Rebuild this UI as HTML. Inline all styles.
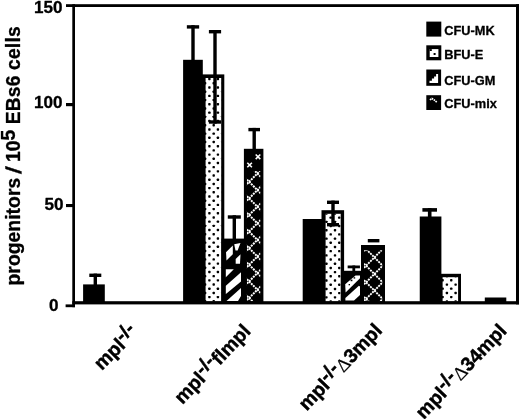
<!DOCTYPE html>
<html lang="en"><head><meta charset="utf-8"><title>progenitors / 10^5 EBs6 cells</title>
<style>
html,body{margin:0;padding:0;background:#fff;}
body{width:520px;height:419px;overflow:hidden;}
svg{display:block;}
text{font-family:"Liberation Sans",Arial,Helvetica,sans-serif;font-weight:bold;fill:#000;stroke:#000;stroke-width:0.3px;stroke-linejoin:round;}
.tk{font-size:16px;}
.lg{font-size:12.8px;}
.ax{font-size:19.3px;}
.xl{font-size:19.5px;stroke-width:0.45px;}
.sym{font-family:"Liberation Serif","DejaVu Serif",serif;font-weight:normal;font-size:19px;stroke-width:0.2px;}
</style></head><body>
<svg width="520" height="419" viewBox="0 0 520 419">
<rect x="0" y="0" width="520" height="419" fill="#fff"/>

<rect x="83.10" y="284.40" width="21.70" height="18.10" fill="#000" />
<rect x="89.30" y="273.60" width="12.00" height="3.40" fill="#000" />
<rect x="93.60" y="273.60" width="3.40" height="11.40" fill="#000" />
<rect x="183.10" y="59.80" width="19.70" height="242.70" fill="#000" />
<rect x="186.85" y="25.20" width="12.30" height="3.40" fill="#000" />
<rect x="191.30" y="25.20" width="3.40" height="34.80" fill="#000" />
<rect x="201.50" y="74.40" width="22.80" height="228.10" fill="#000" />
<rect x="205.60" y="78.00" width="15.60" height="223.50" fill="#fff" />
<clipPath id="c1"><rect x="205.00" y="78.00" width="16.20" height="223.50"/></clipPath>
<g clip-path="url(#c1)">
<rect x="208.20" y="77.91" width="2.4" height="2.4" rx="0.7" fill="#000"/>
<rect x="216.70" y="77.91" width="2.4" height="2.4" rx="0.7" fill="#000"/>
<rect x="208.20" y="86.30" width="2.4" height="2.4" rx="0.7" fill="#000"/>
<rect x="216.70" y="86.30" width="2.4" height="2.4" rx="0.7" fill="#000"/>
<rect x="208.20" y="94.69" width="2.4" height="2.4" rx="0.7" fill="#000"/>
<rect x="216.70" y="94.69" width="2.4" height="2.4" rx="0.7" fill="#000"/>
<rect x="208.20" y="103.07" width="2.4" height="2.4" rx="0.7" fill="#000"/>
<rect x="216.70" y="103.07" width="2.4" height="2.4" rx="0.7" fill="#000"/>
<rect x="208.20" y="111.46" width="2.4" height="2.4" rx="0.7" fill="#000"/>
<rect x="216.70" y="111.46" width="2.4" height="2.4" rx="0.7" fill="#000"/>
<rect x="208.20" y="119.84" width="2.4" height="2.4" rx="0.7" fill="#000"/>
<rect x="216.70" y="119.84" width="2.4" height="2.4" rx="0.7" fill="#000"/>
<rect x="208.20" y="128.23" width="2.4" height="2.4" rx="0.7" fill="#000"/>
<rect x="216.70" y="128.23" width="2.4" height="2.4" rx="0.7" fill="#000"/>
<rect x="208.20" y="136.61" width="2.4" height="2.4" rx="0.7" fill="#000"/>
<rect x="216.70" y="136.61" width="2.4" height="2.4" rx="0.7" fill="#000"/>
<rect x="208.20" y="145.00" width="2.4" height="2.4" rx="0.7" fill="#000"/>
<rect x="216.70" y="145.00" width="2.4" height="2.4" rx="0.7" fill="#000"/>
<rect x="208.20" y="153.38" width="2.4" height="2.4" rx="0.7" fill="#000"/>
<rect x="216.70" y="153.38" width="2.4" height="2.4" rx="0.7" fill="#000"/>
<rect x="208.20" y="161.76" width="2.4" height="2.4" rx="0.7" fill="#000"/>
<rect x="216.70" y="161.76" width="2.4" height="2.4" rx="0.7" fill="#000"/>
<rect x="208.20" y="170.15" width="2.4" height="2.4" rx="0.7" fill="#000"/>
<rect x="216.70" y="170.15" width="2.4" height="2.4" rx="0.7" fill="#000"/>
<rect x="208.20" y="178.53" width="2.4" height="2.4" rx="0.7" fill="#000"/>
<rect x="216.70" y="178.53" width="2.4" height="2.4" rx="0.7" fill="#000"/>
<rect x="208.20" y="186.92" width="2.4" height="2.4" rx="0.7" fill="#000"/>
<rect x="216.70" y="186.92" width="2.4" height="2.4" rx="0.7" fill="#000"/>
<rect x="208.20" y="195.30" width="2.4" height="2.4" rx="0.7" fill="#000"/>
<rect x="216.70" y="195.30" width="2.4" height="2.4" rx="0.7" fill="#000"/>
<rect x="208.20" y="203.69" width="2.4" height="2.4" rx="0.7" fill="#000"/>
<rect x="216.70" y="203.69" width="2.4" height="2.4" rx="0.7" fill="#000"/>
<rect x="208.20" y="212.07" width="2.4" height="2.4" rx="0.7" fill="#000"/>
<rect x="216.70" y="212.07" width="2.4" height="2.4" rx="0.7" fill="#000"/>
<rect x="208.20" y="220.46" width="2.4" height="2.4" rx="0.7" fill="#000"/>
<rect x="216.70" y="220.46" width="2.4" height="2.4" rx="0.7" fill="#000"/>
<rect x="208.20" y="228.84" width="2.4" height="2.4" rx="0.7" fill="#000"/>
<rect x="216.70" y="228.84" width="2.4" height="2.4" rx="0.7" fill="#000"/>
<rect x="208.20" y="237.23" width="2.4" height="2.4" rx="0.7" fill="#000"/>
<rect x="216.70" y="237.23" width="2.4" height="2.4" rx="0.7" fill="#000"/>
<rect x="208.20" y="245.61" width="2.4" height="2.4" rx="0.7" fill="#000"/>
<rect x="216.70" y="245.61" width="2.4" height="2.4" rx="0.7" fill="#000"/>
<rect x="208.20" y="254.00" width="2.4" height="2.4" rx="0.7" fill="#000"/>
<rect x="216.70" y="254.00" width="2.4" height="2.4" rx="0.7" fill="#000"/>
<rect x="208.20" y="262.38" width="2.4" height="2.4" rx="0.7" fill="#000"/>
<rect x="216.70" y="262.38" width="2.4" height="2.4" rx="0.7" fill="#000"/>
<rect x="208.20" y="270.77" width="2.4" height="2.4" rx="0.7" fill="#000"/>
<rect x="216.70" y="270.77" width="2.4" height="2.4" rx="0.7" fill="#000"/>
<rect x="208.20" y="279.15" width="2.4" height="2.4" rx="0.7" fill="#000"/>
<rect x="216.70" y="279.15" width="2.4" height="2.4" rx="0.7" fill="#000"/>
<rect x="208.20" y="287.54" width="2.4" height="2.4" rx="0.7" fill="#000"/>
<rect x="216.70" y="287.54" width="2.4" height="2.4" rx="0.7" fill="#000"/>
<rect x="208.20" y="295.92" width="2.4" height="2.4" rx="0.7" fill="#000"/>
<rect x="216.70" y="295.92" width="2.4" height="2.4" rx="0.7" fill="#000"/>
<rect x="203.90" y="82.11" width="2.4" height="2.4" rx="0.7" fill="#000"/>
<rect x="212.50" y="82.11" width="2.4" height="2.4" rx="0.7" fill="#000"/>
<rect x="221.00" y="82.11" width="2.4" height="2.4" rx="0.7" fill="#000"/>
<rect x="203.90" y="90.50" width="2.4" height="2.4" rx="0.7" fill="#000"/>
<rect x="212.50" y="90.50" width="2.4" height="2.4" rx="0.7" fill="#000"/>
<rect x="221.00" y="90.50" width="2.4" height="2.4" rx="0.7" fill="#000"/>
<rect x="203.90" y="98.89" width="2.4" height="2.4" rx="0.7" fill="#000"/>
<rect x="212.50" y="98.89" width="2.4" height="2.4" rx="0.7" fill="#000"/>
<rect x="221.00" y="98.89" width="2.4" height="2.4" rx="0.7" fill="#000"/>
<rect x="203.90" y="107.27" width="2.4" height="2.4" rx="0.7" fill="#000"/>
<rect x="212.50" y="107.27" width="2.4" height="2.4" rx="0.7" fill="#000"/>
<rect x="221.00" y="107.27" width="2.4" height="2.4" rx="0.7" fill="#000"/>
<rect x="203.90" y="115.66" width="2.4" height="2.4" rx="0.7" fill="#000"/>
<rect x="212.50" y="115.66" width="2.4" height="2.4" rx="0.7" fill="#000"/>
<rect x="221.00" y="115.66" width="2.4" height="2.4" rx="0.7" fill="#000"/>
<rect x="203.90" y="124.04" width="2.4" height="2.4" rx="0.7" fill="#000"/>
<rect x="212.50" y="124.04" width="2.4" height="2.4" rx="0.7" fill="#000"/>
<rect x="221.00" y="124.04" width="2.4" height="2.4" rx="0.7" fill="#000"/>
<rect x="203.90" y="132.43" width="2.4" height="2.4" rx="0.7" fill="#000"/>
<rect x="212.50" y="132.43" width="2.4" height="2.4" rx="0.7" fill="#000"/>
<rect x="221.00" y="132.43" width="2.4" height="2.4" rx="0.7" fill="#000"/>
<rect x="203.90" y="140.81" width="2.4" height="2.4" rx="0.7" fill="#000"/>
<rect x="212.50" y="140.81" width="2.4" height="2.4" rx="0.7" fill="#000"/>
<rect x="221.00" y="140.81" width="2.4" height="2.4" rx="0.7" fill="#000"/>
<rect x="203.90" y="149.20" width="2.4" height="2.4" rx="0.7" fill="#000"/>
<rect x="212.50" y="149.20" width="2.4" height="2.4" rx="0.7" fill="#000"/>
<rect x="221.00" y="149.20" width="2.4" height="2.4" rx="0.7" fill="#000"/>
<rect x="203.90" y="157.58" width="2.4" height="2.4" rx="0.7" fill="#000"/>
<rect x="212.50" y="157.58" width="2.4" height="2.4" rx="0.7" fill="#000"/>
<rect x="221.00" y="157.58" width="2.4" height="2.4" rx="0.7" fill="#000"/>
<rect x="203.90" y="165.97" width="2.4" height="2.4" rx="0.7" fill="#000"/>
<rect x="212.50" y="165.97" width="2.4" height="2.4" rx="0.7" fill="#000"/>
<rect x="221.00" y="165.97" width="2.4" height="2.4" rx="0.7" fill="#000"/>
<rect x="203.90" y="174.35" width="2.4" height="2.4" rx="0.7" fill="#000"/>
<rect x="212.50" y="174.35" width="2.4" height="2.4" rx="0.7" fill="#000"/>
<rect x="221.00" y="174.35" width="2.4" height="2.4" rx="0.7" fill="#000"/>
<rect x="203.90" y="182.73" width="2.4" height="2.4" rx="0.7" fill="#000"/>
<rect x="212.50" y="182.73" width="2.4" height="2.4" rx="0.7" fill="#000"/>
<rect x="221.00" y="182.73" width="2.4" height="2.4" rx="0.7" fill="#000"/>
<rect x="203.90" y="191.12" width="2.4" height="2.4" rx="0.7" fill="#000"/>
<rect x="212.50" y="191.12" width="2.4" height="2.4" rx="0.7" fill="#000"/>
<rect x="221.00" y="191.12" width="2.4" height="2.4" rx="0.7" fill="#000"/>
<rect x="203.90" y="199.50" width="2.4" height="2.4" rx="0.7" fill="#000"/>
<rect x="212.50" y="199.50" width="2.4" height="2.4" rx="0.7" fill="#000"/>
<rect x="221.00" y="199.50" width="2.4" height="2.4" rx="0.7" fill="#000"/>
<rect x="203.90" y="207.89" width="2.4" height="2.4" rx="0.7" fill="#000"/>
<rect x="212.50" y="207.89" width="2.4" height="2.4" rx="0.7" fill="#000"/>
<rect x="221.00" y="207.89" width="2.4" height="2.4" rx="0.7" fill="#000"/>
<rect x="203.90" y="216.27" width="2.4" height="2.4" rx="0.7" fill="#000"/>
<rect x="212.50" y="216.27" width="2.4" height="2.4" rx="0.7" fill="#000"/>
<rect x="221.00" y="216.27" width="2.4" height="2.4" rx="0.7" fill="#000"/>
<rect x="203.90" y="224.66" width="2.4" height="2.4" rx="0.7" fill="#000"/>
<rect x="212.50" y="224.66" width="2.4" height="2.4" rx="0.7" fill="#000"/>
<rect x="221.00" y="224.66" width="2.4" height="2.4" rx="0.7" fill="#000"/>
<rect x="203.90" y="233.04" width="2.4" height="2.4" rx="0.7" fill="#000"/>
<rect x="212.50" y="233.04" width="2.4" height="2.4" rx="0.7" fill="#000"/>
<rect x="221.00" y="233.04" width="2.4" height="2.4" rx="0.7" fill="#000"/>
<rect x="203.90" y="241.43" width="2.4" height="2.4" rx="0.7" fill="#000"/>
<rect x="212.50" y="241.43" width="2.4" height="2.4" rx="0.7" fill="#000"/>
<rect x="221.00" y="241.43" width="2.4" height="2.4" rx="0.7" fill="#000"/>
<rect x="203.90" y="249.81" width="2.4" height="2.4" rx="0.7" fill="#000"/>
<rect x="212.50" y="249.81" width="2.4" height="2.4" rx="0.7" fill="#000"/>
<rect x="221.00" y="249.81" width="2.4" height="2.4" rx="0.7" fill="#000"/>
<rect x="203.90" y="258.20" width="2.4" height="2.4" rx="0.7" fill="#000"/>
<rect x="212.50" y="258.20" width="2.4" height="2.4" rx="0.7" fill="#000"/>
<rect x="221.00" y="258.20" width="2.4" height="2.4" rx="0.7" fill="#000"/>
<rect x="203.90" y="266.58" width="2.4" height="2.4" rx="0.7" fill="#000"/>
<rect x="212.50" y="266.58" width="2.4" height="2.4" rx="0.7" fill="#000"/>
<rect x="221.00" y="266.58" width="2.4" height="2.4" rx="0.7" fill="#000"/>
<rect x="203.90" y="274.97" width="2.4" height="2.4" rx="0.7" fill="#000"/>
<rect x="212.50" y="274.97" width="2.4" height="2.4" rx="0.7" fill="#000"/>
<rect x="221.00" y="274.97" width="2.4" height="2.4" rx="0.7" fill="#000"/>
<rect x="203.90" y="283.35" width="2.4" height="2.4" rx="0.7" fill="#000"/>
<rect x="212.50" y="283.35" width="2.4" height="2.4" rx="0.7" fill="#000"/>
<rect x="221.00" y="283.35" width="2.4" height="2.4" rx="0.7" fill="#000"/>
<rect x="203.90" y="291.74" width="2.4" height="2.4" rx="0.7" fill="#000"/>
<rect x="212.50" y="291.74" width="2.4" height="2.4" rx="0.7" fill="#000"/>
<rect x="221.00" y="291.74" width="2.4" height="2.4" rx="0.7" fill="#000"/>
<rect x="203.90" y="300.12" width="2.4" height="2.4" rx="0.7" fill="#000"/>
<rect x="212.50" y="300.12" width="2.4" height="2.4" rx="0.7" fill="#000"/>
<rect x="221.00" y="300.12" width="2.4" height="2.4" rx="0.7" fill="#000"/>
</g>
<rect x="208.90" y="30.00" width="12.20" height="3.40" fill="#000" />
<rect x="213.30" y="30.00" width="3.40" height="93.70" fill="#000" />
<rect x="208.90" y="120.30" width="12.20" height="3.40" fill="#000" />
<rect x="221.50" y="238.60" width="24.50" height="63.90" fill="#000" />
<rect x="243.90" y="148.80" width="19.50" height="153.70" fill="#000" />
<clipPath id="c2"><rect x="246.90" y="171.00" width="13.40" height="130.20"/></clipPath>
<g clip-path="url(#c2)" stroke="#fff" stroke-width="2.0" stroke-dasharray="2.0 0.9" fill="none">
<line x1="244.90" y1="161.00" x2="262.30" y2="178.40"/>
<line x1="244.90" y1="169.40" x2="262.30" y2="152.00"/>
<line x1="244.90" y1="177.60" x2="262.30" y2="195.00"/>
<line x1="244.90" y1="186.00" x2="262.30" y2="168.60"/>
<line x1="244.90" y1="194.20" x2="262.30" y2="211.60"/>
<line x1="244.90" y1="202.60" x2="262.30" y2="185.20"/>
<line x1="244.90" y1="210.80" x2="262.30" y2="228.20"/>
<line x1="244.90" y1="219.20" x2="262.30" y2="201.80"/>
<line x1="244.90" y1="227.40" x2="262.30" y2="244.80"/>
<line x1="244.90" y1="235.80" x2="262.30" y2="218.40"/>
<line x1="244.90" y1="244.00" x2="262.30" y2="261.40"/>
<line x1="244.90" y1="252.40" x2="262.30" y2="235.00"/>
<line x1="244.90" y1="260.60" x2="262.30" y2="278.00"/>
<line x1="244.90" y1="269.00" x2="262.30" y2="251.60"/>
<line x1="244.90" y1="277.20" x2="262.30" y2="294.60"/>
<line x1="244.90" y1="285.60" x2="262.30" y2="268.20"/>
<line x1="244.90" y1="293.80" x2="262.30" y2="311.20"/>
<line x1="244.90" y1="302.20" x2="262.30" y2="284.80"/>
<line x1="244.90" y1="318.80" x2="262.30" y2="301.40"/>
</g>
<path d="M255.70 154.50L260.30 159.10M255.70 159.10L260.30 154.50" stroke="#fff" stroke-width="1.6" fill="none"/>
<path d="M247.30 162.70L251.90 167.30M247.30 167.30L251.90 162.70" stroke="#fff" stroke-width="1.6" fill="none"/>
<rect x="248.40" y="127.90" width="11.60" height="3.40" fill="#000" />
<rect x="252.50" y="127.90" width="3.40" height="21.60" fill="#000" />
<rect x="227.80" y="215.30" width="13.00" height="3.40" fill="#000" />
<rect x="232.60" y="215.30" width="3.40" height="23.70" fill="#000" />
<rect x="302.70" y="219.00" width="20.30" height="83.50" fill="#000" />
<rect x="321.50" y="210.20" width="22.60" height="92.30" fill="#000" />
<rect x="325.60" y="213.80" width="15.10" height="87.70" fill="#fff" />
<clipPath id="c3"><rect x="325.00" y="213.80" width="15.70" height="87.70"/></clipPath>
<g clip-path="url(#c3)">
<rect x="325.20" y="212.28" width="2.4" height="2.4" rx="0.7" fill="#000"/>
<rect x="333.80" y="212.28" width="2.4" height="2.4" rx="0.7" fill="#000"/>
<rect x="325.20" y="220.67" width="2.4" height="2.4" rx="0.7" fill="#000"/>
<rect x="333.80" y="220.67" width="2.4" height="2.4" rx="0.7" fill="#000"/>
<rect x="325.20" y="229.05" width="2.4" height="2.4" rx="0.7" fill="#000"/>
<rect x="333.80" y="229.05" width="2.4" height="2.4" rx="0.7" fill="#000"/>
<rect x="325.20" y="237.44" width="2.4" height="2.4" rx="0.7" fill="#000"/>
<rect x="333.80" y="237.44" width="2.4" height="2.4" rx="0.7" fill="#000"/>
<rect x="325.20" y="245.82" width="2.4" height="2.4" rx="0.7" fill="#000"/>
<rect x="333.80" y="245.82" width="2.4" height="2.4" rx="0.7" fill="#000"/>
<rect x="325.20" y="254.20" width="2.4" height="2.4" rx="0.7" fill="#000"/>
<rect x="333.80" y="254.20" width="2.4" height="2.4" rx="0.7" fill="#000"/>
<rect x="325.20" y="262.59" width="2.4" height="2.4" rx="0.7" fill="#000"/>
<rect x="333.80" y="262.59" width="2.4" height="2.4" rx="0.7" fill="#000"/>
<rect x="325.20" y="270.97" width="2.4" height="2.4" rx="0.7" fill="#000"/>
<rect x="333.80" y="270.97" width="2.4" height="2.4" rx="0.7" fill="#000"/>
<rect x="325.20" y="279.36" width="2.4" height="2.4" rx="0.7" fill="#000"/>
<rect x="333.80" y="279.36" width="2.4" height="2.4" rx="0.7" fill="#000"/>
<rect x="325.20" y="287.74" width="2.4" height="2.4" rx="0.7" fill="#000"/>
<rect x="333.80" y="287.74" width="2.4" height="2.4" rx="0.7" fill="#000"/>
<rect x="325.20" y="296.13" width="2.4" height="2.4" rx="0.7" fill="#000"/>
<rect x="333.80" y="296.13" width="2.4" height="2.4" rx="0.7" fill="#000"/>
<rect x="329.50" y="216.43" width="2.4" height="2.4" rx="0.7" fill="#000"/>
<rect x="338.10" y="216.43" width="2.4" height="2.4" rx="0.7" fill="#000"/>
<rect x="320.80" y="216.43" width="2.4" height="2.4" rx="0.7" fill="#000"/>
<rect x="329.50" y="224.82" width="2.4" height="2.4" rx="0.7" fill="#000"/>
<rect x="338.10" y="224.82" width="2.4" height="2.4" rx="0.7" fill="#000"/>
<rect x="320.80" y="224.82" width="2.4" height="2.4" rx="0.7" fill="#000"/>
<rect x="329.50" y="233.20" width="2.4" height="2.4" rx="0.7" fill="#000"/>
<rect x="338.10" y="233.20" width="2.4" height="2.4" rx="0.7" fill="#000"/>
<rect x="320.80" y="233.20" width="2.4" height="2.4" rx="0.7" fill="#000"/>
<rect x="329.50" y="241.59" width="2.4" height="2.4" rx="0.7" fill="#000"/>
<rect x="338.10" y="241.59" width="2.4" height="2.4" rx="0.7" fill="#000"/>
<rect x="320.80" y="241.59" width="2.4" height="2.4" rx="0.7" fill="#000"/>
<rect x="329.50" y="249.97" width="2.4" height="2.4" rx="0.7" fill="#000"/>
<rect x="338.10" y="249.97" width="2.4" height="2.4" rx="0.7" fill="#000"/>
<rect x="320.80" y="249.97" width="2.4" height="2.4" rx="0.7" fill="#000"/>
<rect x="329.50" y="258.36" width="2.4" height="2.4" rx="0.7" fill="#000"/>
<rect x="338.10" y="258.36" width="2.4" height="2.4" rx="0.7" fill="#000"/>
<rect x="320.80" y="258.36" width="2.4" height="2.4" rx="0.7" fill="#000"/>
<rect x="329.50" y="266.74" width="2.4" height="2.4" rx="0.7" fill="#000"/>
<rect x="338.10" y="266.74" width="2.4" height="2.4" rx="0.7" fill="#000"/>
<rect x="320.80" y="266.74" width="2.4" height="2.4" rx="0.7" fill="#000"/>
<rect x="329.50" y="275.12" width="2.4" height="2.4" rx="0.7" fill="#000"/>
<rect x="338.10" y="275.12" width="2.4" height="2.4" rx="0.7" fill="#000"/>
<rect x="320.80" y="275.12" width="2.4" height="2.4" rx="0.7" fill="#000"/>
<rect x="329.50" y="283.51" width="2.4" height="2.4" rx="0.7" fill="#000"/>
<rect x="338.10" y="283.51" width="2.4" height="2.4" rx="0.7" fill="#000"/>
<rect x="320.80" y="283.51" width="2.4" height="2.4" rx="0.7" fill="#000"/>
<rect x="329.50" y="291.89" width="2.4" height="2.4" rx="0.7" fill="#000"/>
<rect x="338.10" y="291.89" width="2.4" height="2.4" rx="0.7" fill="#000"/>
<rect x="320.80" y="291.89" width="2.4" height="2.4" rx="0.7" fill="#000"/>
<rect x="329.50" y="300.28" width="2.4" height="2.4" rx="0.7" fill="#000"/>
<rect x="338.10" y="300.28" width="2.4" height="2.4" rx="0.7" fill="#000"/>
<rect x="320.80" y="300.28" width="2.4" height="2.4" rx="0.7" fill="#000"/>
</g>
<rect x="327.00" y="200.60" width="12.00" height="3.40" fill="#000" />
<rect x="331.30" y="200.60" width="3.40" height="25.80" fill="#000" />
<rect x="327.00" y="223.00" width="12.00" height="3.40" fill="#000" />
<rect x="341.00" y="270.80" width="22.00" height="31.70" fill="#000" />
<rect x="347.65" y="265.50" width="12.30" height="2.80" fill="#000" />
<rect x="352.40" y="265.50" width="2.80" height="6.00" fill="#000" />
<rect x="361.00" y="245.00" width="24.00" height="57.50" fill="#000" />
<clipPath id="c4"><rect x="364.00" y="250.30" width="18.20" height="50.90"/></clipPath>
<g clip-path="url(#c4)" stroke="#fff" stroke-width="1.9" stroke-dasharray="2.0 0.9" fill="none">
<line x1="362.00" y1="228.40" x2="384.20" y2="250.60"/>
<line x1="362.00" y1="253.20" x2="384.20" y2="231.00"/>
<line x1="362.00" y1="245.00" x2="384.20" y2="267.20"/>
<line x1="362.00" y1="269.80" x2="384.20" y2="247.60"/>
<line x1="362.00" y1="261.60" x2="384.20" y2="283.80"/>
<line x1="362.00" y1="286.40" x2="384.20" y2="264.20"/>
<line x1="362.00" y1="278.20" x2="384.20" y2="300.40"/>
<line x1="362.00" y1="303.00" x2="384.20" y2="280.80"/>
<line x1="362.00" y1="294.80" x2="384.20" y2="317.00"/>
<line x1="362.00" y1="319.60" x2="384.20" y2="297.40"/>
</g>
<rect x="367.80" y="239.00" width="11.60" height="3.40" fill="#000" />
<rect x="419.75" y="216.50" width="21.65" height="86.00" fill="#000" />
<rect x="422.40" y="208.10" width="14.60" height="3.60" fill="#000" />
<rect x="427.90" y="208.10" width="3.60" height="8.90" fill="#000" />
<rect x="440.50" y="273.80" width="20.50" height="28.70" fill="#000" />
<rect x="442.60" y="277.20" width="15.50" height="24.30" fill="#fff" />
<clipPath id="c5"><rect x="442.00" y="277.20" width="16.10" height="24.30"/></clipPath>
<g clip-path="url(#c5)">
<rect x="450.05" y="279.05" width="2.4" height="2.4" rx="0.7" fill="#000"/>
<rect x="441.40" y="279.05" width="2.4" height="2.4" rx="0.7" fill="#000"/>
<rect x="458.70" y="279.05" width="2.4" height="2.4" rx="0.7" fill="#000"/>
<rect x="450.05" y="287.47" width="2.4" height="2.4" rx="0.7" fill="#000"/>
<rect x="441.40" y="287.47" width="2.4" height="2.4" rx="0.7" fill="#000"/>
<rect x="458.70" y="287.47" width="2.4" height="2.4" rx="0.7" fill="#000"/>
<rect x="450.05" y="295.89" width="2.4" height="2.4" rx="0.7" fill="#000"/>
<rect x="441.40" y="295.89" width="2.4" height="2.4" rx="0.7" fill="#000"/>
<rect x="458.70" y="295.89" width="2.4" height="2.4" rx="0.7" fill="#000"/>
<rect x="445.70" y="274.98" width="2.4" height="2.4" rx="0.7" fill="#000"/>
<rect x="454.40" y="274.98" width="2.4" height="2.4" rx="0.7" fill="#000"/>
<rect x="445.70" y="283.40" width="2.4" height="2.4" rx="0.7" fill="#000"/>
<rect x="454.40" y="283.40" width="2.4" height="2.4" rx="0.7" fill="#000"/>
<rect x="445.70" y="291.82" width="2.4" height="2.4" rx="0.7" fill="#000"/>
<rect x="454.40" y="291.82" width="2.4" height="2.4" rx="0.7" fill="#000"/>
<rect x="445.70" y="300.24" width="2.4" height="2.4" rx="0.7" fill="#000"/>
<rect x="454.40" y="300.24" width="2.4" height="2.4" rx="0.7" fill="#000"/>
</g>
<rect x="484.80" y="297.50" width="21.50" height="5.00" fill="#000" />
<rect x="225.40" y="242.40" width="15.60" height="59.10" fill="#000" />
<clipPath id="c6"><rect x="225.50" y="242.60" width="15.50" height="58.60"/></clipPath>
<g clip-path="url(#c6)">
<polygon points="226.0,252.3 232.8,245.6 232.8,254.2 226.5,260.5" fill="#fff"/>
<polygon points="234.2,244.3 240.5,242.9 237.6,250.4 235.5,250.4" fill="#fff"/>
<polygon points="235.7,259.0 240.5,254.2 240.0,263.8 235.7,263.8" fill="#fff"/>
<polygon points="225.6,269.3 233.8,269.3 225.6,277.5" fill="#fff"/>
<polygon points="225.6,286.1 241.0,272.2 241.0,281.5 225.6,294.2" fill="#fff"/>
<polygon points="226.5,301.0 241.0,288.0 241.0,296.0 238.0,301.0" fill="#fff"/>
</g>
<rect x="345.00" y="274.60" width="15.00" height="26.90" fill="#000" />
<clipPath id="c7"><rect x="345.00" y="274.80" width="15.00" height="26.40"/></clipPath>
<g clip-path="url(#c7)">
<polygon points="345.2,284.2 355.5,275.4 360.0,275.4 360.0,278.3 345.6,292.5" fill="#fff"/>
<rect x="350.60" y="279.60" width="1.80" height="1.60" fill="#000" />
<rect x="353.60" y="277.20" width="1.60" height="1.40" fill="#000" />
<rect x="348.60" y="284.00" width="1.40" height="1.30" fill="#000" />
<polygon points="345.4,300.6 345.4,298.0 358.9,285.8 360.0,286.5 360.0,295.0 354.0,300.6" fill="#fff"/>
</g>
<rect x="66.00" y="4.20" width="453.00" height="2.80" fill="#000" />
<rect x="72.30" y="4.20" width="2.70" height="303.00" fill="#000" />
<rect x="516.00" y="4.20" width="3.00" height="300.20" fill="#000" />
<rect x="72.30" y="301.20" width="446.70" height="3.20" fill="#000" />
<rect x="66.00" y="103.00" width="7.00" height="3.20" fill="#000" />
<rect x="66.00" y="204.00" width="7.00" height="3.10" fill="#000" />
<rect x="65.60" y="304.40" width="9.40" height="2.80" fill="#000" />
<text class="tk" transform="translate(62.6,13.0) scale(1.07,1)" text-anchor="end">150</text>
<text class="tk" transform="translate(62.6,108.0) scale(1.07,1)" text-anchor="end">100</text>
<text class="tk" transform="translate(63.6,209.6) scale(1.07,1)" text-anchor="end">50</text>
<text class="tk" transform="translate(58.5,311.2) scale(1.07,1)" text-anchor="end">0</text>
<text class="ax" letter-spacing="0.06" transform="translate(20,285.5) rotate(-90)">progenitors</text>
<text class="ax" text-anchor="middle" transform="translate(20.8,171.2) rotate(-90) skewX(-8) scale(1.12,1.12)">/</text>
<text class="ax" transform="translate(20,162.0) rotate(-90)">10<tspan dy="-5.4">5</tspan><tspan dy="5.4" letter-spacing="0.16"> EBs6 cells</tspan></text>
<rect x="426.30" y="21.60" width="15.00" height="15.00" fill="#000" />
<text class="lg" x="444.2" y="34.9">CFU-MK</text>
<rect x="426.30" y="45.30" width="15.00" height="15.00" fill="#000" />
<rect x="429.70" y="49.10" width="8.70" height="7.90" fill="#fff" />
<rect x="429.70" y="49.10" width="2.10" height="1.90" fill="#000" />
<rect x="433.60" y="53.00" width="2.00" height="2.00" fill="#000" />
<text class="lg" x="444.2" y="58.6">BFU-E</text>
<rect x="426.30" y="69.50" width="14.80" height="16.30" fill="#000" />
<polygon points="429.5,82.9 429.5,80.7 431.9,80.7 431.9,78.6 434.1,78.6 434.1,76.5 436.1,76.5 436.1,74.1 438.1,74.1 438.1,82.9" fill="#fff"/>
<text class="lg" x="444.2" y="84.7">CFU-GM</text>
<rect x="426.30" y="95.20" width="14.80" height="14.80" fill="#000" />
<path d="M429.9 99.9L431.9 98.5L433.8 99.7L435.5 101.1L437.2 102.5" stroke="#fff" stroke-width="1.7" stroke-dasharray="1.6 0.7" fill="none"/>
<text class="lg" x="444.2" y="108.4">CFU-mix</text>
<text class="xl" letter-spacing="0" transform="translate(101.7,371.0) rotate(-45)">mpl<tspan dy="-5.2">-/-</tspan></text>
<text class="xl" letter-spacing="0.1" transform="translate(182.4,405.0) rotate(-46.4)">mpl<tspan dy="-5.2">-/-</tspan><tspan dy="5.2">flmpl</tspan></text>
<text class="xl" letter-spacing="0" transform="translate(306.8,411.6) rotate(-46.4)">mpl<tspan dy="-5.2">-/-</tspan><tspan dy="5.2"><tspan class="sym">Δ</tspan>3mpl</tspan></text>
<text class="xl" letter-spacing="0" transform="translate(423.8,419.9) rotate(-46.4)">mpl<tspan dy="-5.2">-/-</tspan><tspan dy="5.2"><tspan class="sym">Δ</tspan>34mpl</tspan></text>
</svg>
</body></html>
